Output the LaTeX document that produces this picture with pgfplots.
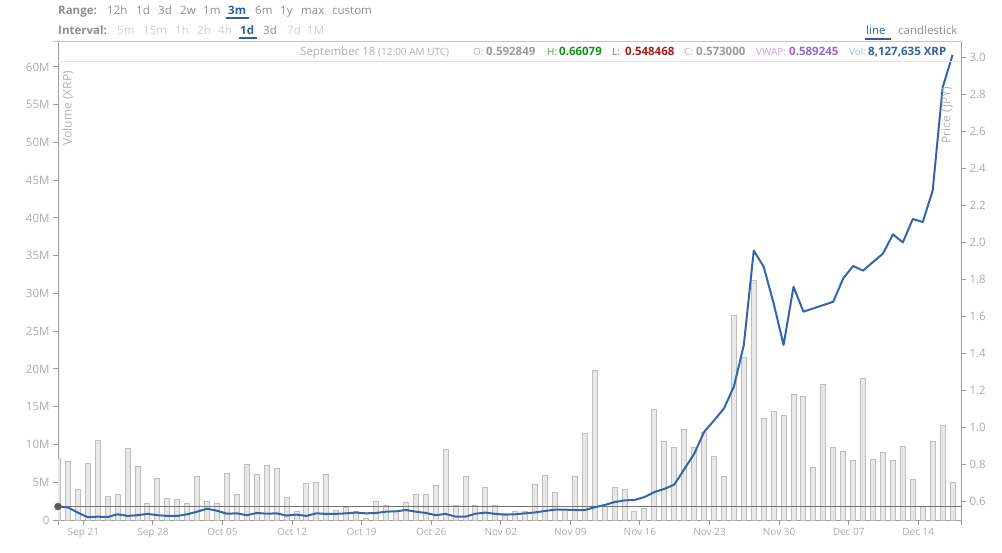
\documentclass[border=0pt]{standalone}
\usepackage{fontspec}
\setmainfont{Open Sans}
\usepackage{pgfplots}
\pgfplotsset{compat=1.18}
\usepackage{pgfplotstable}

\definecolor{hdrgrey}{HTML}{8E8E8E}
\definecolor{offgrey}{HTML}{CFCFCF}
\definecolor{ticklab}{HTML}{ABABAB}
\definecolor{axisgrey}{HTML}{9C9C9C}
\definecolor{selblue}{HTML}{2F5E9C}
\definecolor{priceblue}{HTML}{3465A8}
\definecolor{barfill}{HTML}{E8E8E8}
\definecolor{baredge}{HTML}{BEBEBE}
\definecolor{hgreen}{HTML}{129412}
\definecolor{lred}{HTML}{A81C1C}
\definecolor{vwappurple}{HTML}{9469C8}
\definecolor{volblue}{HTML}{33639E}
\definecolor{infogrey}{HTML}{AEAEAE}
\definecolor{valgrey}{HTML}{9A9A9A}

% daily volume, millions of XRP (day 0 = Sep 18)
\pgfplotstableread{
k vol
0 8.17
1 7.73
2 4.10
3 7.50
4 10.55
5 3.13
6 3.40
7 9.50
8 7.15
9 2.16
10 5.47
11 2.87
12 2.74
13 2.20
14 5.78
15 2.43
16 2.20
17 6.22
18 3.36
19 7.33
20 6.04
21 7.24
22 6.80
23 2.96
24 1.15
25 4.77
26 4.94
27 6.09
28 1.32
29 1.72
30 1.15
31 0.26
32 2.50
33 1.97
34 1.10
35 2.32
36 3.40
37 3.40
38 4.60
39 9.40
40 1.92
41 5.74
42 1.94
43 4.30
44 1.92
45 0.80
46 1.10
47 1.10
48 4.70
49 5.94
50 3.68
51 1.41
52 5.78
53 11.40
54 19.80
55 1.85
56 4.28
57 4.02
58 1.10
59 1.46
60 14.66
61 10.42
62 9.63
63 11.96
64 9.63
65 11.57
66 8.40
67 5.74
68 27.06
69 21.46
70 31.70
71 13.50
72 14.40
73 13.90
74 16.60
75 16.30
76 6.97
77 17.97
78 9.60
79 9.05
80 7.86
81 18.76
82 7.99
83 8.96
84 7.86
85 9.76
86 5.39
87 1.80
88 10.37
89 12.54
90 4.99
}\voltab

% daily price, JPY
\pgfplotstableread{
k price
0 0.572
1 0.568
2 0.540
3 0.515
4 0.518
5 0.516
6 0.531
7 0.522
8 0.526
9 0.533
10 0.526
11 0.522
12 0.522
13 0.531
14 0.545
15 0.561
16 0.550
17 0.534
18 0.536
19 0.526
20 0.538
21 0.534
22 0.536
23 0.524
24 0.529
25 0.522
26 0.536
27 0.533
28 0.533
29 0.536
30 0.540
31 0.536
32 0.538
33 0.545
34 0.547
35 0.554
36 0.545
37 0.538
38 0.526
39 0.533
40 0.518
41 0.518
42 0.534
43 0.540
44 0.533
45 0.529
46 0.531
47 0.536
48 0.541
49 0.549
50 0.556
51 0.556
52 0.554
53 0.554
54 0.569
55 0.581
56 0.597
57 0.606
58 0.608
59 0.624
60 0.651
61 0.668
62 0.691
63 0.774
64 0.857
65 0.976
66 1.038
67 1.103
68 1.221
69 1.446
70 1.956
71 1.869
72 1.671
73 1.446
74 1.761
75 1.626
76 1.644
77 1.662
78 1.680
79 1.806
80 1.873
81 1.848
82 1.895
83 1.940
84 2.044
85 2.001
86 2.127
87 2.111
88 2.280
89 2.837
90 3.014
}\pricetab

\newcommand{\hfont}{\fontsize{11.5pt}{13pt}\selectfont}
\newcommand{\hd}[4]{\node[anchor=base west, inner sep=0pt, text=#3, font=\hfont] at (#1pt,#2pt) {#4};}

\pgfplotsset{
  chartbase/.style={
    at={(58pt,32pt)}, anchor=south west,
    scale only axis, width=903pt, height=478pt,
    xmin=0, xmax=90.85,
    tick align=outside, major tick length=5pt,
    axis line style={draw=axisgrey, line width=1pt},
    every tick/.style={draw=axisgrey, line width=1pt},
    /pgf/number format/assume math mode=true,
  },
}

\begin{document}
\begin{tikzpicture}
\useasboundingbox (0,0) rectangle (1002pt,552pt);

% volume bars
\begin{axis}[chartbase,
  axis x line*=bottom, axis y line*=left,
  ymin=0, ymax=63.31,
  ytick={0,5,10,15,20,25,30,35,40,45,50,55,60},
  yticklabels={0,5M,10M,15M,20M,25M,30M,35M,40M,45M,50M,55M,60M},
  extra y ticks={63.31}, extra y tick labels={},
  xtick={2.55,9.55,16.55,23.55,30.55,37.55,44.55,51.55,58.55,65.55,72.55,79.55,86.55},
  xticklabels={Sep 21,Sep 28,Oct 05,Oct 12,Oct 19,Oct 26,Nov 02,Nov 09,Nov 16,Nov 23,Nov 30,Dec 07,Dec 14},
  extra x ticks={0,90.85}, extra x tick labels={},
  yticklabel style={font=\fontsize{11.5pt}{13pt}\selectfont, text=ticklab},
  xticklabel style={font=\fontsize{10pt}{12pt}\selectfont, text=ticklab},
]
\addplot[ybar, bar width=5pt, fill=barfill, draw=baredge, line width=1pt]
  table[x=k, y=vol]{\voltab};
\end{axis}

% price line
\begin{axis}[chartbase,
  axis x line=none, axis y line*=right,
  ymin=0.5, ymax=3.084, clip=false,
  xtick=\empty,
  ytick={0.6,0.8,1.0,1.2,1.4,1.6,1.8,2.0,2.2,2.4,2.6,2.8,3.0},
  yticklabel style={font=\fontsize{11.5pt}{13pt}\selectfont, text=ticklab,
    /pgf/number format/.cd, fixed, fixed zerofill, precision=1},
]
\addplot[draw=gray!90!black, line width=1.4pt] coordinates {(0,0.573) (90.85,0.573)};
\addplot[draw=priceblue, line width=2pt, line join=round] table[x=k, y=price]{\pricetab};
\addplot[only marks, mark=*, mark size=3.5pt, color=black!65] coordinates {(0,0.573)};
\end{axis}

% info band
\draw[draw=black!22, line width=1pt] (53pt,510pt) -- (961pt,510pt);
\draw[draw=black!10, line width=1pt] (58pt,490.5pt) -- (961pt,490.5pt);

% axis titles
\node[rotate=90, anchor=east, inner sep=0pt, text=black!30, font=\fontsize{12pt}{14pt}\selectfont] at (68pt,481pt) {Volume (XRP)};
\node[rotate=90, anchor=east, inner sep=0pt, text=black!30, font=\fontsize{12pt}{14pt}\selectfont] at (947pt,465pt) {Price (JPY)};

% range row
\hd{58}{537}{hdrgrey}{\bfseries Range:}
\hd{107}{537}{hdrgrey}{12h}
\hd{136}{537}{hdrgrey}{1d}
\hd{158}{537}{hdrgrey}{3d}
\hd{180}{537}{hdrgrey}{2w}
\hd{203}{537}{hdrgrey}{1m}
\hd{228}{537}{selblue}{\bfseries 3m}
\hd{255}{537}{hdrgrey}{6m}
\hd{280}{537}{hdrgrey}{1y}
\hd{301}{537}{hdrgrey}{max}
\hd{332}{537}{hdrgrey}{custom}
\fill[selblue] (226pt,532.5pt) rectangle (249pt,534.5pt);

% interval row
\hd{58}{517}{hdrgrey}{\bfseries Interval:}
\hd{117}{517}{offgrey}{5m}
\hd{143}{517}{offgrey}{15m}
\hd{175}{517}{offgrey}{1h}
\hd{197}{517}{offgrey}{2h}
\hd{218}{517}{offgrey}{4h}
\hd{240}{517}{selblue}{\bfseries 1d}
\hd{263}{517}{hdrgrey}{3d}
\hd{287}{517}{offgrey}{7d}
\hd{307}{517}{offgrey}{1M}
\fill[selblue] (239pt,512.5pt) rectangle (257pt,514.5pt);

% chart type
\hd{866}{517}{selblue}{line}
\hd{898}{517}{hdrgrey}{candlestick}
\fill[selblue] (865pt,511.5pt) rectangle (891pt,513.5pt);

% info line
\newcommand{\sm}{\fontsize{10pt}{12pt}\selectfont}
\hd{300}{496}{infogrey}{September 18}
\hd{378}{496}{infogrey}{\sm (12:00 AM UTC)}
\hd{473}{496}{infogrey}{\sm O:}
\hd{486}{496}{valgrey}{\bfseries 0.592849}
\hd{547}{496}{hgreen!80}{\sm H:}
\hd{559}{496}{hgreen}{\bfseries 0.66079}
\hd{612}{496}{lred!70}{\sm L:}
\hd{625}{496}{lred}{\bfseries 0.548468}
\hd{684}{496}{infogrey}{\sm C:}
\hd{696}{496}{valgrey}{\bfseries 0.573000}
\hd{756}{496}{vwappurple!60}{\sm VWAP:}
\hd{789}{496}{vwappurple}{\bfseries 0.589245}
\hd{849}{496}{volblue!45}{\sm Vol:}
\hd{868}{496}{volblue}{\bfseries 8,127,635 XRP}
\end{tikzpicture}
\end{document}
